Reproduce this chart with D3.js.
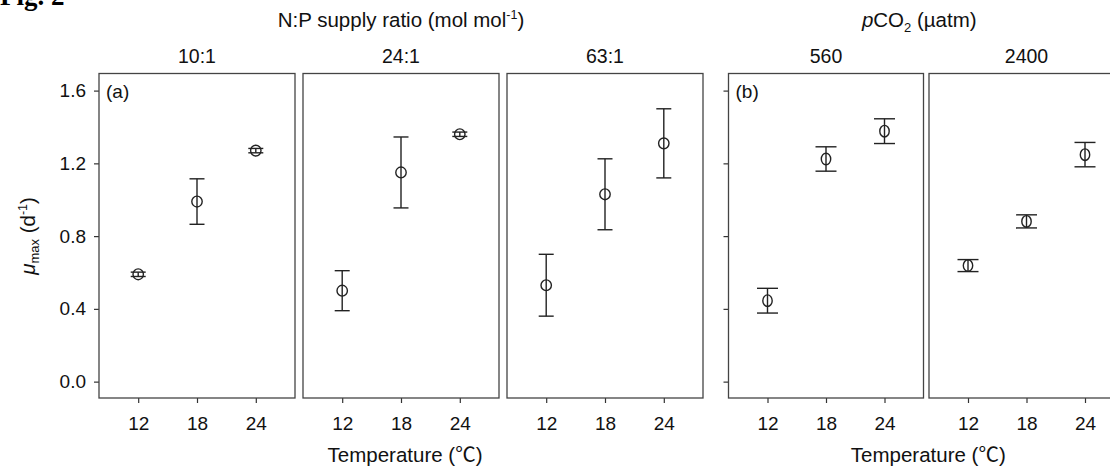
<!DOCTYPE html>
<html>
<head>
<meta charset="utf-8">
<script src="https://cdn.jsdelivr.net/npm/d3@7"></script>
<style>
  body { margin: 0; background: #fff; }
  svg { display: block; font-family: "Liberation Sans", Arial, sans-serif; }
</style>
</head>
<body>
<svg id="chart" width="1110" height="467"></svg>
<script>
// temperatures (x) and panel groups
const temps = [12, 18, 24];
const npRatios = ['10:1', '24:1', '63:1'];
const co2Levels = ['560', '2400'];

// mu max (d-1), mean and error half-width, one row per panel
const npMean = [[0.59, 0.99, 1.27], [0.50, 1.15, 1.36], [0.53, 1.03, 1.31]];
const npErr = [[0.012, 0.125, 0.012], [0.11, 0.195, 0.012], [0.17, 0.195, 0.19]];
const co2Mean = [[0.445, 1.224, 1.377], [0.638, 0.881, 1.248]];
const co2Err = [[0.068, 0.067, 0.068], [0.033, 0.036, 0.067]];

const yTicks = [0, 0.4, 0.8, 1.2, 1.6];

const svg = d3.select('#chart');
const plotTop = 73.5, plotBottom = 398;
const y = d3.scaleLinear().domain([-0.09, 1.694]).range([plotBottom, plotTop]);
const tickFont = '19px';

// "Fig. 2" caption, clipped at the top of the page (as in the source)
svg.append('text')
  .attr('x', 0).attr('y', 5)
  .style('font-family', '"Liberation Serif", "Times New Roman", serif')
  .style('font-weight', 'bold').style('font-size', '27px')
  .text('Fig. 2');

function drawPanel(x0, w, title, means, errs, opts) {
  const x = d3.scaleLinear().domain([8, 28]).range([x0, x0 + w]);
  const g = svg.append('g');

  // panel title
  g.append('text')
    .attr('x', x0 + w / 2).attr('y', 63)
    .attr('text-anchor', 'middle')
    .style('font-size', '19.5px').attr('fill', '#111')
    .text(title);

  // x axis
  const xa = g.append('g')
    .attr('transform', `translate(0,${plotBottom})`)
    .call(d3.axisBottom(x).tickValues(temps).tickSize(5).tickSizeOuter(0).tickPadding(14));
  xa.select('.domain').remove();
  xa.selectAll('line').attr('stroke', '#333').attr('stroke-width', 1.2);
  xa.selectAll('text').style('font-size', tickFont).attr('fill', '#111')
    .style('font-family', '"Liberation Sans", Arial, sans-serif');

  // y axis
  if (opts.yAxis) {
    const ya = g.append('g')
      .attr('transform', `translate(${x0},0)`)
      .call(d3.axisLeft(y).tickValues(yTicks).tickSize(5).tickSizeOuter(0).tickPadding(8)
        .tickFormat(opts.yLabels ? d3.format('.1f') : ''));
    ya.select('.domain').remove();
    ya.selectAll('line').attr('stroke', '#333').attr('stroke-width', 1.2);
    ya.selectAll('text').style('font-size', tickFont).attr('fill', '#111')
      .style('font-family', '"Liberation Sans", Arial, sans-serif');
  }

  // panel box
  g.append('rect')
    .attr('x', x0).attr('y', plotTop)
    .attr('width', w).attr('height', plotBottom - plotTop)
    .attr('fill', 'none').attr('stroke', '#444').attr('stroke-width', 1.3);

  if (opts.tag) {
    g.append('text')
      .attr('x', x0 + 7).attr('y', 98)
      .style('font-size', tickFont).attr('fill', '#111')
      .text(opts.tag);
  }

  const pts = temps.map((t, i) => ({ t, m: means[i], e: errs[i] }));
  const cap = opts.cap;

  const bars = g.selectAll('.eb').data(pts).enter().append('g').attr('class', 'eb')
    .attr('stroke', '#222').attr('stroke-width', 1.4).attr('fill', 'none');
  bars.append('line')
    .attr('x1', d => x(d.t)).attr('x2', d => x(d.t))
    .attr('y1', d => y(d.m - d.e)).attr('y2', d => y(d.m + d.e));
  bars.append('line')
    .attr('x1', d => x(d.t) - cap).attr('x2', d => x(d.t) + cap)
    .attr('y1', d => y(d.m + d.e)).attr('y2', d => y(d.m + d.e));
  bars.append('line')
    .attr('x1', d => x(d.t) - cap).attr('x2', d => x(d.t) + cap)
    .attr('y1', d => y(d.m - d.e)).attr('y2', d => y(d.m - d.e));
  bars.append('ellipse')
    .attr('cx', d => x(d.t)).attr('cy', d => y(d.m))
    .attr('rx', opts.rx).attr('ry', opts.ry)
    .attr('fill', 'none');
}

// panel (a): N:P supply ratio
const aX0 = 99, aW = 196, aGap = 8;
npRatios.forEach((r, i) => {
  drawPanel(aX0 + i * (aW + aGap), aW, r, npMean[i], npErr[i], {
    yAxis: i === 0, yLabels: true, tag: i === 0 ? '(a)' : null,
    cap: 7.5, rx: 5.2, ry: 5.4
  });
});

// panel (b): pCO2
const bX0 = 728.5, bW = 195, bGap = 5.5;
co2Levels.forEach((c, i) => {
  drawPanel(bX0 + i * (bW + bGap), bW, c, co2Mean[i], co2Err[i], {
    yAxis: i === 0, yLabels: false, tag: i === 0 ? '(b)' : null,
    cap: 10.5, rx: 4.7, ry: 5.8
  });
});

// group headers
const aMid = aX0 + (3 * aW + 2 * aGap) / 2;
const bMid = bX0 + (2 * bW + bGap) / 2;

const npT = svg.append('text')
  .attr('x', aMid).attr('y', 27).attr('text-anchor', 'middle')
  .style('font-size', '20.5px').attr('fill', '#111');
npT.append('tspan').text('N:P supply ratio (mol mol');
npT.append('tspan').attr('dy', -8).style('font-size', '12.5px').text('-1');
npT.append('tspan').attr('dy', 8).text(')');

const co2T = svg.append('text')
  .attr('x', bMid - 7).attr('y', 27).attr('text-anchor', 'middle')
  .style('font-size', '20.5px').attr('fill', '#111');
co2T.append('tspan').style('font-style', 'italic').text('p');
co2T.append('tspan').text('CO');
co2T.append('tspan').attr('dy', 5).style('font-size', '13px').text('2');
co2T.append('tspan').attr('dy', -5).text(' (µatm)');

// x titles
[aMid + 4, bMid + 2].forEach(cx => {
  const t = svg.append('text')
    .attr('x', cx).attr('y', 462).attr('text-anchor', 'middle')
    .style('font-size', '20.5px').attr('fill', '#111');
  t.append('tspan').text('Temperature (');
  t.append('tspan').style('font-family', '"Noto Sans CJK SC", sans-serif').text('℃');
  t.append('tspan').text(')');
});

// y title
const yT = svg.append('text')
  .attr('transform', `translate(35,236) rotate(-90)`)
  .attr('text-anchor', 'middle')
  .style('font-size', '20.5px').attr('fill', '#111');
yT.append('tspan').style('font-style', 'italic').text('μ');
yT.append('tspan').attr('dy', 4).style('font-size', '13px').text('max');
yT.append('tspan').attr('dy', -4).text(' (d');
yT.append('tspan').attr('dy', -8).style('font-size', '12.5px').text('-1');
yT.append('tspan').attr('dy', 8).text(')');
</script>
</body>
</html>
